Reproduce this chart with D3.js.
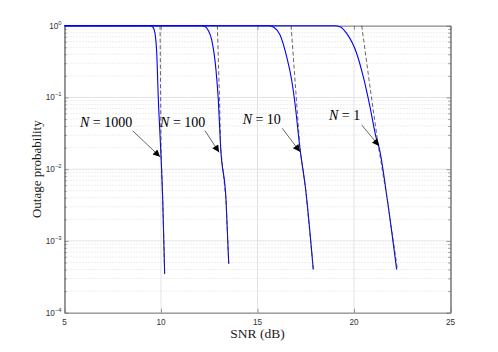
<!DOCTYPE html>
<html><head><meta charset="utf-8">
<script src="https://cdn.jsdelivr.net/npm/d3@7"></script>
<style>body{margin:0;background:#fff}svg{display:block}</style>
</head><body><svg id="c" width="498" height="352"></svg>
<script>
// ---------- data ----------
const xTicks = [5, 10, 15, 20, 25];
const yTickExps = [0, -1, -2, -3, -4];
const xLabel = "SNR (dB)";
const yLabel = "Outage probability";

// exact outage (blue) curves: [SNR dB, probability]
const exactN1000 = [[5,1],[9.43,1],[9.55,0.97],[9.63,0.9],[9.69,0.78],[9.78,0.41],[9.86,0.098],[9.98,0.02],[10.09,0.0037],[10.19,0.00035]];
const exactN100  = [[5,1],[12.11,1],[12.3,0.97],[12.45,0.86],[12.63,0.63],[12.85,0.24],[12.97,0.092],[13.09,0.02],[13.37,0.0037],[13.51,0.00048]];
const exactN10   = [[5,1],[15.6,1],[15.85,0.95],[16.17,0.74],[16.51,0.37],[16.77,0.175],[16.94,0.083],[17.2,0.0195],[17.5,0.0051],[17.89,0.0004]];
const exactN1    = [[5,1],[19.0,1],[19.3,0.96],[19.62,0.78],[20.14,0.41],[20.48,0.195],[20.83,0.074],[21.14,0.028],[21.31,0.0195],[21.73,0.0037],[22.21,0.0004]];

// asymptotic (dashed) curves
const asymN1000 = [[9.95,1],[9.99,0.05],[10.0,0.02],[10.09,0.0037],[10.19,0.00035]];
const asymN100  = [[12.92,1],[13.03,0.1],[13.09,0.02],[13.37,0.0037],[13.51,0.00048]];
const asymN10   = [[16.74,1],[17.03,0.083],[17.2,0.0195],[17.5,0.0051],[17.89,0.0004]];
const asymN1    = [[20.4,1],[20.83,0.14],[21.25,0.022],[21.73,0.0037],[22.24,0.00042]];

// annotations: label, text anchor (dB, P), arrow tail, arrow head
const annN      = ["1000", "100", "10", "1"];
const annText   = [[5.80,0.0387],[9.95,0.0387],[14.23,0.0427],[18.70,0.0485]];
const annTail   = [[8.53,0.0344],[12.28,0.0344],[16.28,0.0372],[20.40,0.0413]];
const annHead   = [[9.95,0.0149],[13.01,0.0172],[17.20,0.0175],[21.30,0.0211]];

// ---------- drawing ----------
const svg = d3.select("#c");
const L = 64.5, R = 450.5, T = 25.7, B = 312.7;
const x = d3.scaleLinear().domain([5, 25]).range([L, R]);
const y = d3.scaleLog().domain([1e-4, 1]).range([B, T]);
const axisCol = "#262626";

// grid
const g = svg.append("g");
const minorVals = [];
for (let e = -4; e < 0; e++) for (let m = 2; m <= 9; m++) minorVals.push(m * Math.pow(10, e));
g.selectAll(".mg").data(minorVals).enter().append("line")
  .attr("x1", L).attr("x2", R).attr("y1", d => y(d)).attr("y2", d => y(d))
  .attr("stroke", "#c8c8c8").attr("stroke-width", 0.6).attr("stroke-dasharray", "1,2");
g.selectAll(".yg").data(yTickExps).enter().append("line")
  .attr("x1", L).attr("x2", R).attr("y1", d => y(Math.pow(10, d))).attr("y2", d => y(Math.pow(10, d)))
  .attr("stroke", "#e3e3e3").attr("stroke-width", 1);
g.selectAll(".xg").data(xTicks).enter().append("line")
  .attr("y1", T).attr("y2", B).attr("x1", d => x(d)).attr("x2", d => x(d))
  .attr("stroke", "#e3e3e3").attr("stroke-width", 1);

// axes with inward ticks using d3 axes
const fmtNone = () => "";
const axB = d3.axisBottom(x).tickValues(xTicks).tickSizeInner(-4).tickSizeOuter(0).tickFormat(fmtNone);
const axT = d3.axisTop(x).tickValues(xTicks).tickSizeInner(-4).tickSizeOuter(0).tickFormat(fmtNone);
const axL = d3.axisLeft(y).tickValues(yTickExps.map(e => Math.pow(10, e))).tickSizeInner(-4).tickSizeOuter(0).tickFormat(fmtNone);
const axR = d3.axisRight(y).tickValues(yTickExps.map(e => Math.pow(10, e))).tickSizeInner(-4).tickSizeOuter(0).tickFormat(fmtNone);
const axLm = d3.axisLeft(y).tickValues(minorVals).tickSizeInner(-2.2).tickSizeOuter(0).tickFormat(fmtNone);
const axRm = d3.axisRight(y).tickValues(minorVals).tickSizeInner(-2.2).tickSizeOuter(0).tickFormat(fmtNone);
function styleAx(sel) {
  sel.selectAll("path").attr("stroke", "#7a7a7a").attr("stroke-width", 1);
  sel.selectAll("line").attr("stroke", "#555").attr("stroke-width", 0.6);
}
styleAx(svg.append("g").attr("transform", `translate(0,${B})`).call(axB));
styleAx(svg.append("g").attr("transform", `translate(0,${T})`).call(axT));
styleAx(svg.append("g").attr("transform", `translate(${L},0)`).call(axL));
styleAx(svg.append("g").attr("transform", `translate(${R},0)`).call(axR));
styleAx(svg.append("g").attr("transform", `translate(${L},0)`).call(axLm));
styleAx(svg.append("g").attr("transform", `translate(${R},0)`).call(axRm));

// tick labels
const tickFont = "'Liberation Sans', Arial, sans-serif";
svg.append("g").selectAll("text").data(xTicks).enter().append("text")
  .attr("x", d => x(d)).attr("y", B + 12.5).attr("text-anchor", "middle")
  .attr("font-family", tickFont).attr("font-size", 8.2).attr("fill", "#333").text(d => d);
const yl = svg.append("g").selectAll("text").data(yTickExps).enter().append("text")
  .attr("x", L - 3).attr("y", d => y(Math.pow(10, d)) + 3).attr("text-anchor", "end")
  .attr("font-family", tickFont).attr("font-size", 8.2).attr("fill", "#333");
yl.append("tspan").text("10");
yl.append("tspan").attr("dy", -4).attr("font-size", 5.8).text(d => d === 0 ? "0" : "\u2212" + (-d));

// axis labels
const serif = "'Liberation Serif', 'Times New Roman', serif";
svg.append("text").attr("x", (L + R) / 2).attr("y", 338).attr("text-anchor", "middle")
  .attr("font-family", serif).attr("font-size", 13.5).attr("fill", "#1a1a1a").text(xLabel);
svg.append("text").attr("transform", `translate(40.5,${(T + B) / 2}) rotate(-90)`).attr("text-anchor", "middle")
  .attr("font-family", serif).attr("font-size", 13).attr("fill", "#1a1a1a").text(yLabel);

// curves
const line = d3.line().x(d => x(d[0])).y(d => y(d[1])).curve(d3.curveMonotoneX);
const dline = d3.line().x(d => x(d[0])).y(d => y(d[1]));
const plot = svg.append("g");
[exactN1000, exactN100, exactN10, exactN1].forEach(s => {
  plot.append("path").attr("d", line(s)).attr("fill", "none")
    .attr("stroke", "#0000ff").attr("stroke-width", 1.1);
});
[asymN1000, asymN100, asymN10, asymN1].forEach(s => {
  plot.append("path").attr("d", dline(s)).attr("fill", "none")
    .attr("stroke", "#333").attr("stroke-width", 0.75).attr("stroke-dasharray", "4,2.5");
});

// annotations
const defs = svg.append("defs");
defs.append("marker").attr("id", "ah").attr("viewBox", "0 0 10 10").attr("refX", 10).attr("refY", 5)
  .attr("markerWidth", 9).attr("markerHeight", 7).attr("markerUnits", "userSpaceOnUse").attr("orient", "auto")
  .append("path").attr("d", "M0,0 L10,5 L0,10 Z").attr("fill", "#000");
annN.forEach((n, i) => {
  svg.append("line")
    .attr("x1", x(annTail[i][0])).attr("y1", y(annTail[i][1]))
    .attr("x2", x(annHead[i][0])).attr("y2", y(annHead[i][1]))
    .attr("stroke", "#000").attr("stroke-width", 0.6).attr("marker-end", "url(#ah)");
  const t = svg.append("text").attr("x", x(annText[i][0])).attr("y", y(annText[i][1]))
    .attr("font-family", serif).attr("font-size", 14).attr("fill", "#000");
  t.append("tspan").attr("font-style", "italic").text("N");
  t.append("tspan").text(" = " + n);
});
</script></body></html>
